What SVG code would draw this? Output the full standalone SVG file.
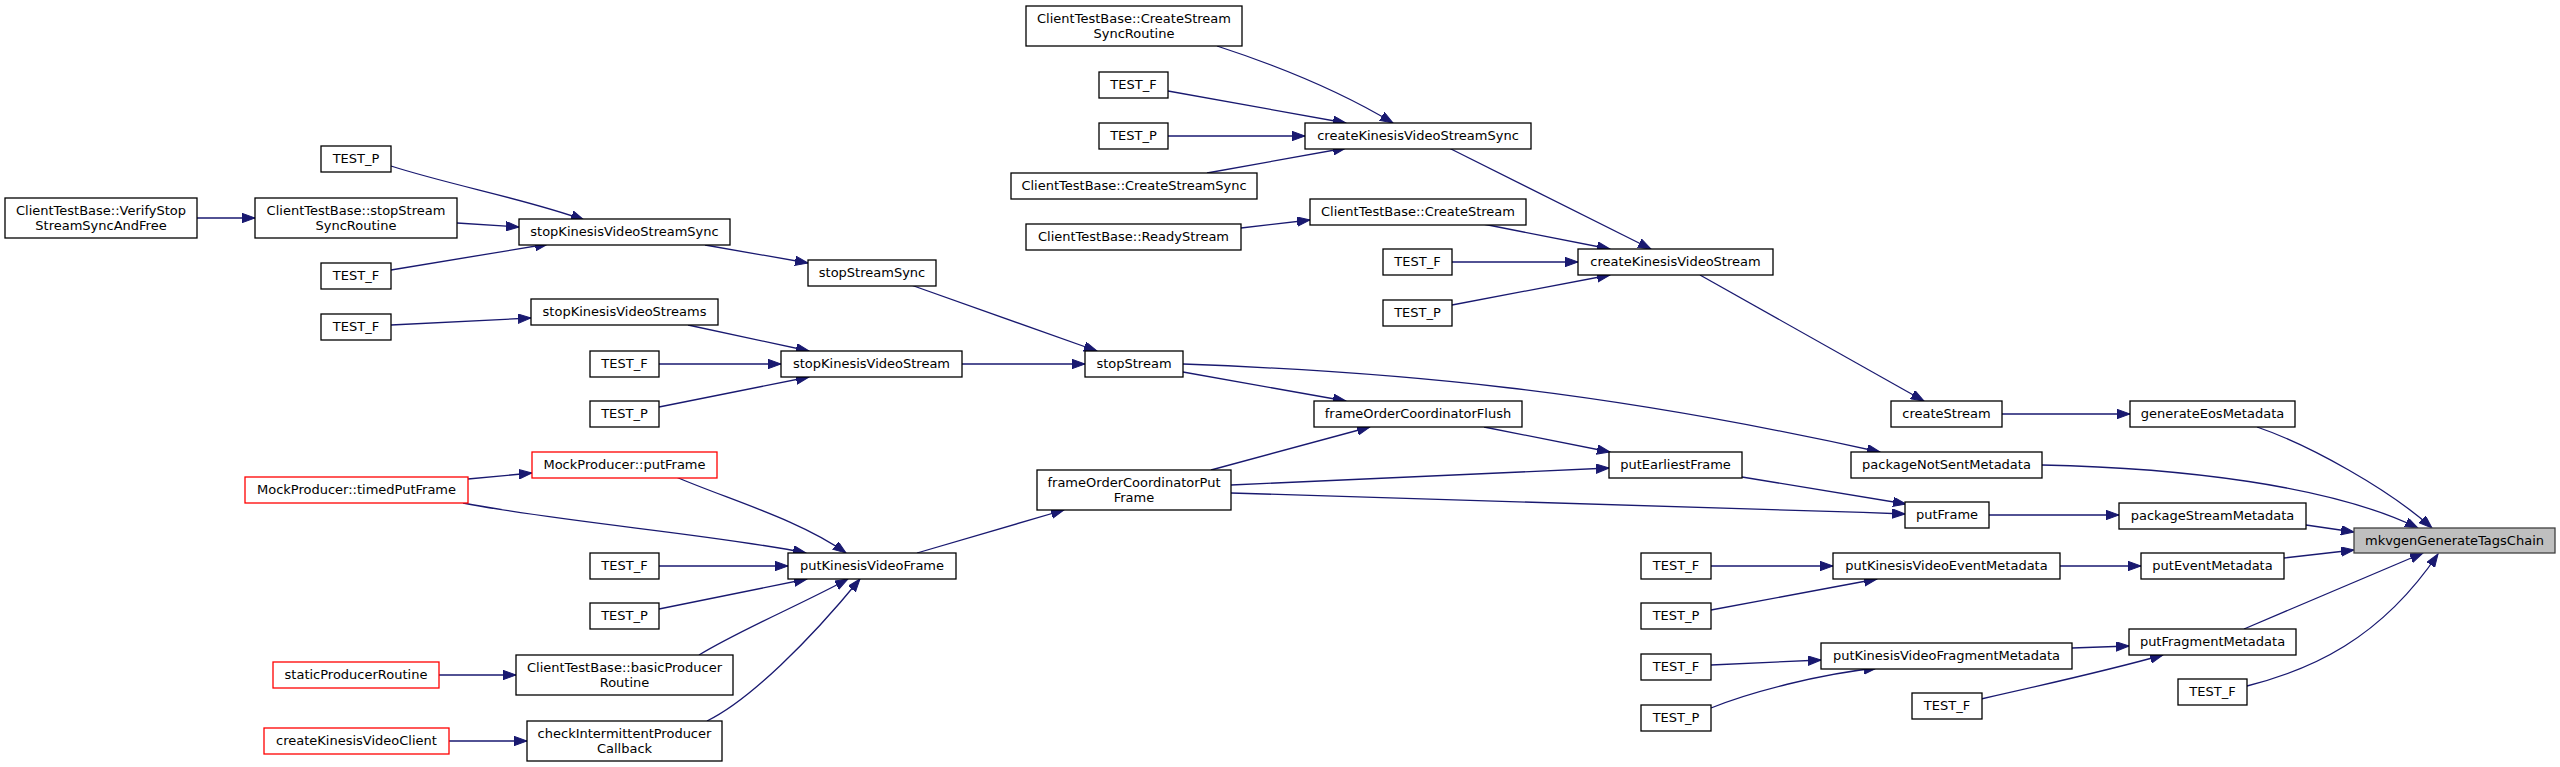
<svg xmlns="http://www.w3.org/2000/svg" width="2560" height="767" viewBox="0 0 2560 767">
<defs>
<style>
.n rect{fill:#fff;stroke:#000;stroke-width:1.3}
.n.r rect{stroke:#f00}
.n.root rect{fill:#bfbfbf;stroke:#404040}
.n text{font-family:"DejaVu Sans","Liberation Sans",sans-serif;font-size:13px;text-anchor:middle;fill:#000}
#edges path{fill:none;stroke:#191970;stroke-width:1.3;marker-end:url(#ah)}
</style>
<marker id="ah" markerUnits="userSpaceOnUse" markerWidth="14" markerHeight="10" refX="13" refY="4.7" orient="auto" viewBox="0 0 14 10">
<path d="M0,0 L13,4.7 L0,9.4 z" fill="#191970" stroke="#191970" stroke-width="1"/>
</marker>
</defs>
<rect width="2560" height="767" fill="#fff"/>
<g id="edges">
<path d="M197,218 L255,218"/>
<path d="M457,223 L519,227"/>
<path d="M391,166 C450,185 530,200 584,220"/>
<path d="M391,270 L548,244"/>
<path d="M391,325 L531,318"/>
<path d="M705,245 L808,263"/>
<path d="M688,325 L809,351"/>
<path d="M659,364 L781,364"/>
<path d="M659,407 L809,377"/>
<path d="M911,285 L1097,351"/>
<path d="M962,364 L1085,364"/>
<path d="M1183,372 L1346,401"/>
<path d="M1183,364 C1400,372 1600,390 1880,452"/>
<path d="M1211,470 L1370,427"/>
<path d="M1231,485 L1609,468"/>
<path d="M1231,493 C1500,500 1700,506 1905,514"/>
<path d="M1484,427 L1610,452"/>
<path d="M1742,477 L1906,504"/>
<path d="M1449,148 L1651,249"/>
<path d="M1217,46 C1260,60 1330,85 1393,123"/>
<path d="M1168,91 L1346,123"/>
<path d="M1168,136 L1305,136"/>
<path d="M1207,173 L1346,148"/>
<path d="M1241,228 L1310,220"/>
<path d="M1483,224 L1610,249"/>
<path d="M1452,262 L1578,262"/>
<path d="M1452,305 L1610,275"/>
<path d="M1700,275 L1924,401"/>
<path d="M2002,414 L2130,414"/>
<path d="M2257,427 C2310,445 2390,490 2432,528"/>
<path d="M2042,465 C2180,468 2330,485 2418,528"/>
<path d="M1989,515 L2119,515"/>
<path d="M2306,525 L2354,532"/>
<path d="M2060,566 L2141,566"/>
<path d="M2284,558 L2354,550"/>
<path d="M2244,629 L2423,553"/>
<path d="M2247,686 C2310,670 2380,640 2438,554"/>
<path d="M2072,648 L2129,646"/>
<path d="M1981,699 C2030,688 2110,670 2163,655"/>
<path d="M1711,566 L1833,566"/>
<path d="M1711,610 L1877,579"/>
<path d="M1711,665 L1821,660"/>
<path d="M1711,708 C1750,692 1820,674 1877,668"/>
<path d="M468,479 L532,473"/>
<path d="M463,503 C560,522 720,535 806,553"/>
<path d="M676,477 C730,500 800,520 846,553"/>
<path d="M659,566 L788,566"/>
<path d="M659,609 L807,579"/>
<path d="M699,655 C740,630 800,605 848,579"/>
<path d="M707,721 C750,700 810,640 860,579"/>
<path d="M439,675 L516,675"/>
<path d="M449,741 L527,741"/>
<path d="M917,553 L1064,510"/>
</g>
<g id="n1" class="n"><rect x="5" y="198" width="192" height="40"/><text x="101" y="215">ClientTestBase::VerifyStop</text><text x="101" y="229.5">StreamSyncAndFree</text></g>
<g id="n2" class="n"><rect x="255" y="198" width="202" height="40"/><text x="356" y="215">ClientTestBase::stopStream</text><text x="356" y="229.5">SyncRoutine</text></g>
<g id="n3" class="n"><rect x="321" y="146" width="70" height="26"/><text x="356" y="163">TEST_P</text></g>
<g id="n4" class="n"><rect x="321" y="263" width="70" height="26"/><text x="356" y="280">TEST_F</text></g>
<g id="n5" class="n"><rect x="321" y="314" width="70" height="26"/><text x="356" y="331">TEST_F</text></g>
<g id="n6" class="n"><rect x="519" y="219" width="211" height="26"/><text x="624.5" y="236">stopKinesisVideoStreamSync</text></g>
<g id="n7" class="n"><rect x="531" y="299" width="187" height="26"/><text x="624.5" y="316">stopKinesisVideoStreams</text></g>
<g id="n8" class="n"><rect x="590" y="351" width="69" height="26"/><text x="624.5" y="368">TEST_F</text></g>
<g id="n9" class="n"><rect x="590" y="401" width="69" height="26"/><text x="624.5" y="418">TEST_P</text></g>
<g id="n10" class="n"><rect x="808" y="260" width="128" height="26"/><text x="872" y="277">stopStreamSync</text></g>
<g id="n11" class="n"><rect x="781" y="351" width="181" height="26"/><text x="871.5" y="368">stopKinesisVideoStream</text></g>
<g id="n12" class="n"><rect x="1085" y="351" width="98" height="26"/><text x="1134" y="368">stopStream</text></g>
<g id="n13" class="n r"><rect x="245" y="477" width="223" height="26"/><text x="356.5" y="494">MockProducer::timedPutFrame</text></g>
<g id="n14" class="n r"><rect x="532" y="452" width="185" height="26"/><text x="624.5" y="469">MockProducer::putFrame</text></g>
<g id="n15" class="n"><rect x="590" y="553" width="69" height="26"/><text x="624.5" y="570">TEST_F</text></g>
<g id="n16" class="n"><rect x="590" y="603" width="69" height="26"/><text x="624.5" y="620">TEST_P</text></g>
<g id="n17" class="n r"><rect x="273" y="662" width="166" height="26"/><text x="356" y="679">staticProducerRoutine</text></g>
<g id="n18" class="n"><rect x="516" y="655" width="217" height="40"/><text x="624.5" y="672">ClientTestBase::basicProducer</text><text x="624.5" y="686.5">Routine</text></g>
<g id="n19" class="n r"><rect x="264" y="728" width="185" height="26"/><text x="356.5" y="745">createKinesisVideoClient</text></g>
<g id="n20" class="n"><rect x="527" y="721" width="195" height="40"/><text x="624.5" y="738">checkIntermittentProducer</text><text x="624.5" y="752.5">Callback</text></g>
<g id="n21" class="n"><rect x="788" y="553" width="168" height="26"/><text x="872" y="570">putKinesisVideoFrame</text></g>
<g id="n22" class="n"><rect x="1037" y="470" width="194" height="40"/><text x="1134" y="487">frameOrderCoordinatorPut</text><text x="1134" y="501.5">Frame</text></g>
<g id="n23" class="n"><rect x="1026" y="6" width="216" height="40"/><text x="1134" y="23">ClientTestBase::CreateStream</text><text x="1134" y="37.5">SyncRoutine</text></g>
<g id="n24" class="n"><rect x="1099" y="72" width="69" height="26"/><text x="1133.5" y="89">TEST_F</text></g>
<g id="n25" class="n"><rect x="1099" y="123" width="69" height="26"/><text x="1133.5" y="140">TEST_P</text></g>
<g id="n26" class="n"><rect x="1011" y="173" width="246" height="26"/><text x="1134" y="190">ClientTestBase::CreateStreamSync</text></g>
<g id="n27" class="n"><rect x="1026" y="224" width="215" height="26"/><text x="1133.5" y="241">ClientTestBase::ReadyStream</text></g>
<g id="n28" class="n"><rect x="1305" y="123" width="226" height="26"/><text x="1418" y="140">createKinesisVideoStreamSync</text></g>
<g id="n29" class="n"><rect x="1310" y="199" width="216" height="26"/><text x="1418" y="216">ClientTestBase::CreateStream</text></g>
<g id="n30" class="n"><rect x="1383" y="249" width="69" height="26"/><text x="1417.5" y="266">TEST_F</text></g>
<g id="n31" class="n"><rect x="1383" y="300" width="69" height="26"/><text x="1417.5" y="317">TEST_P</text></g>
<g id="n32" class="n"><rect x="1578" y="249" width="195" height="26"/><text x="1675.5" y="266">createKinesisVideoStream</text></g>
<g id="n33" class="n"><rect x="1314" y="401" width="208" height="26"/><text x="1418" y="418">frameOrderCoordinatorFlush</text></g>
<g id="n34" class="n"><rect x="1609" y="452" width="133" height="26"/><text x="1675.5" y="469">putEarliestFrame</text></g>
<g id="n35" class="n"><rect x="1641" y="553" width="70" height="26"/><text x="1676" y="570">TEST_F</text></g>
<g id="n36" class="n"><rect x="1641" y="603" width="70" height="26"/><text x="1676" y="620">TEST_P</text></g>
<g id="n37" class="n"><rect x="1641" y="654" width="70" height="26"/><text x="1676" y="671">TEST_F</text></g>
<g id="n38" class="n"><rect x="1641" y="705" width="70" height="26"/><text x="1676" y="722">TEST_P</text></g>
<g id="n39" class="n"><rect x="1891" y="401" width="111" height="26"/><text x="1946.5" y="418">createStream</text></g>
<g id="n40" class="n"><rect x="1851" y="452" width="191" height="26"/><text x="1946.5" y="469">packageNotSentMetadata</text></g>
<g id="n41" class="n"><rect x="1905" y="502" width="84" height="26"/><text x="1947" y="519">putFrame</text></g>
<g id="n42" class="n"><rect x="1833" y="553" width="227" height="26"/><text x="1946.5" y="570">putKinesisVideoEventMetadata</text></g>
<g id="n43" class="n"><rect x="1821" y="643" width="251" height="26"/><text x="1946.5" y="660">putKinesisVideoFragmentMetadata</text></g>
<g id="n44" class="n"><rect x="1912" y="693" width="70" height="26"/><text x="1947" y="710">TEST_F</text></g>
<g id="n45" class="n"><rect x="2130" y="401" width="165" height="26"/><text x="2212.5" y="418">generateEosMetadata</text></g>
<g id="n46" class="n"><rect x="2119" y="503" width="187" height="26"/><text x="2212.5" y="520">packageStreamMetadata</text></g>
<g id="n47" class="n"><rect x="2141" y="553" width="143" height="26"/><text x="2212.5" y="570">putEventMetadata</text></g>
<g id="n48" class="n"><rect x="2129" y="629" width="167" height="26"/><text x="2212.5" y="646">putFragmentMetadata</text></g>
<g id="n49" class="n"><rect x="2178" y="679" width="69" height="26"/><text x="2212.5" y="696">TEST_F</text></g>
<g id="n50" class="n root"><rect x="2354" y="528" width="201" height="25"/><text x="2454.5" y="545">mkvgenGenerateTagsChain</text></g>
</svg>
